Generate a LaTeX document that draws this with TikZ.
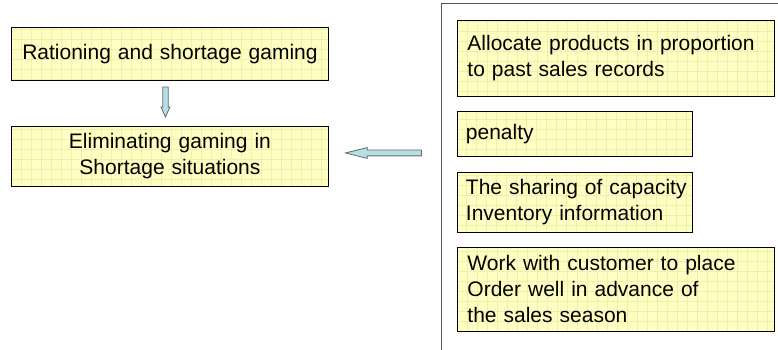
\documentclass[tikz,border=0pt]{standalone}
\usepackage{fontspec}
\setmainfont{Liberation Sans}
\usetikzlibrary{shapes.arrows}
\usetikzlibrary{calc}

\definecolor{boxfill}{HTML}{FFFFC4}
\definecolor{boxgrid}{HTML}{F0F0A8}
\definecolor{arrowfill}{HTML}{B7DEE3}
\definecolor{arrowline}{HTML}{5F6B6E}
\definecolor{frameline}{HTML}{555555}

\begin{document}
\begin{tikzpicture}[x=1pt, y=-1pt,
    box/.style={draw, line width=0.9pt, fill=boxfill, inner xsep=10pt, inner ysep=0pt,
      font=\fontsize{21}{26}\selectfont,
      path picture={\draw[boxgrid, line width=0.4pt, step=10pt]
        (path picture bounding box.south west) grid (path picture bounding box.north east);}},
    leftbox/.style={box, text width=297pt, align=center, anchor=north west},
    rightbox/.style={box, align=left, anchor=north west},
    narrowbox/.style={rightbox, text width=218pt, inner xsep=8.5pt},
    blockarrow/.style={single arrow, draw=arrowline, fill=arrowfill, line width=0.8pt,
      anchor=tip}]
    \useasboundingbox (0,0) rectangle (778,350);

    % draw frame on the right
    \draw[frameline, line width=1pt] (441,350) -- (441,4) -- (778,4);

    % draw left boxes
    \node[leftbox, minimum height=53pt] (rationing) at (11,27) {Rationing and shortage gaming};
    \node[leftbox, minimum height=60pt] (eliminating) at (11,126) {Eliminating gaming in\\Shortage situations};

    % draw right boxes
    \node[rightbox, text width=297pt, minimum height=76pt] (allocate) at (457,20)
      {Allocate products in proportion\\to past sales records};
    \node[narrowbox, minimum height=45pt] (penalty) at (457,111) {penalty};
    \node[narrowbox, minimum height=60pt] (sharing) at (457,172)
      {\mbox{The sharing of capacity}\\Inventory information};
    \node[rightbox, text width=297pt, minimum height=84pt] (customer) at (457,247)
      {Work with customer to place\\Order well in advance of\\the sales season};

    % draw arrows
    \node[blockarrow, shape border rotate=270, inner sep=2.3pt, single arrow head extend=1.7pt,
      single arrow tip angle=48, minimum height=30pt] (downArrow)
      at ($(eliminating.north)+(-4.5,-8)$) {};
    \node[blockarrow, shape border rotate=180, inner sep=2.5pt, single arrow head extend=2.5pt,
      single arrow tip angle=28, minimum height=76pt] (leftArrow)
      at ($(eliminating.east)+(15,-3.5)$) {};
  \end{tikzpicture}
\end{document}
